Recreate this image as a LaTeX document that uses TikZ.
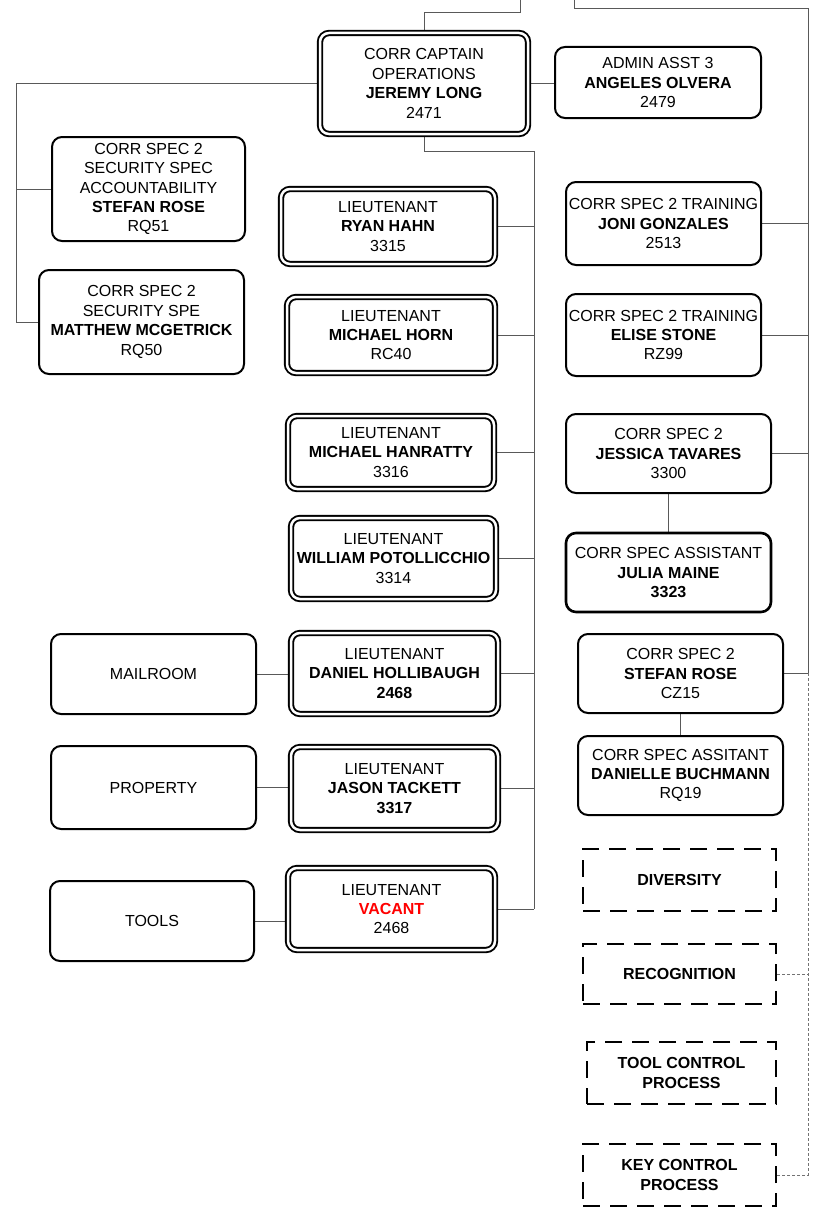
\documentclass[tikz,border=0pt]{standalone}
\usepackage{fontspec}
\setmainfont{Liberation Sans}
\usetikzlibrary{backgrounds,calc}
\begin{document}
\begin{tikzpicture}[x=1pt,y=-1pt,
  base/.style={align=center, inner sep=0pt, fill=white, text=black, font=\fontsize{16}{19.4}\selectfont},
  sz/.style 2 args={minimum width=#1pt, minimum height=#2pt},
  sbox/.style={base, draw=black, line width=2pt, rounded corners=10pt},
  dbox/.style={base, draw=black, double=white, double distance=2.5pt, line width=1.9pt, rounded corners=9pt},
  dashbox/.style={base, draw=black, line width=2.5pt, dash pattern=on 17pt off 10pt, font=\bfseries\fontsize{16}{19.4}\selectfont},
  conn/.style={draw=black!65, line width=1pt},
  dotconn/.style={draw=black!55, line width=1pt, dash pattern=on 3pt off 2pt}]
\useasboundingbox (0,0) rectangle (817,1215);

% double-border boxes
\node[dbox, sz={208}{101}] (capt) at (424,83.5) {CORR CAPTAIN\\OPERATIONS\\\textbf{JEREMY LONG}\\2471};
\node[dbox, sz={214}{75}] (ryan) at (388,226.5) {LIEUTENANT\\\textbf{RYAN HAHN}\\3315};
\node[dbox, sz={208}{76}] (horn) at (391,335) {LIEUTENANT\\\textbf{MICHAEL HORN}\\RC40};
\node[dbox, sz={206}{73}] (hanr) at (391,452.5) {LIEUTENANT\\\textbf{MICHAEL HANRATTY}\\3316};
\node[dbox, sz={205}{81}] (poto) at (393.5,558.5) {LIEUTENANT\\\textbf{WILLIAM POTOLLICCHIO}\\3314};
\node[dbox, sz={207}{81}] (dan) at (394.5,673.5) {LIEUTENANT\\\textbf{DANIEL HOLLIBAUGH}\\\textbf{2468}};
\node[dbox, sz={207}{83}] (jason) at (394.5,788.5) {LIEUTENANT\\\textbf{JASON TACKETT}\\\textbf{3317}};
\node[dbox, sz={207}{82}] (vac) at (391.5,909) {LIEUTENANT\\\textcolor{red}{\textbf{VACANT}}\\2468};

% single boxes
\node[sbox, sz={206}{71}] (admin) at (658,82.5) {ADMIN ASST 3\\\textbf{ANGELES OLVERA}\\2479};
\node[sbox, sz={193}{104}] (stef1) at (148.5,189) {CORR SPEC 2\\SECURITY SPEC\\ACCOUNTABILITY\\\textbf{STEFAN ROSE}\\RQ51};
\node[sbox, sz={205}{104}] (matt) at (141.5,322) {CORR SPEC 2\\SECURITY SPE\\\textbf{MATTHEW MCGETRICK}\\RQ50};
\node[sbox, sz={195}{83}] (joni) at (663.5,223.5) {CORR SPEC 2 TRAINING\\\textbf{JONI GONZALES}\\2513};
\node[sbox, sz={195}{82}] (elise) at (663.5,335) {CORR SPEC 2 TRAINING\\\textbf{ELISE STONE}\\RZ99};
\node[sbox, sz={205}{79}] (jess) at (668.5,453.5) {CORR SPEC 2\\\textbf{JESSICA TAVARES}\\3300};
\node[sbox, sz={205}{79}, line width=2.6pt] (julia) at (668.5,572.5) {CORR SPEC ASSISTANT\\\textbf{JULIA MAINE}\\\textbf{3323}};
\node[sbox, sz={205}{79}] (stef2) at (680.5,673.5) {CORR SPEC 2\\\textbf{STEFAN ROSE}\\CZ15};
\node[sbox, sz={205}{79}] (dani) at (680.5,775.5) {CORR SPEC ASSITANT\\\textbf{DANIELLE BUCHMANN}\\RQ19};
\node[sbox, sz={205}{80}] (mail) at (153.5,674) {MAILROOM};
\node[sbox, sz={205}{83}] (prop) at (153.5,787.5) {PROPERTY};
\node[sbox, sz={204}{80}] (tools) at (152,921) {TOOLS};

% dashed boxes
\node[dashbox, sz={193}{62}] (div) at (679.5,880) {DIVERSITY};
\node[dashbox, sz={193}{60}] (recog) at (679.5,974) {RECOGNITION};
\node[dashbox, sz={189}{62}] (toolc) at (681.5,1073) {TOOL CONTROL\\PROCESS};
\node[dashbox, sz={193}{62}] (keyc) at (679.5,1175) {KEY CONTROL\\PROCESS};

% rail coordinates
\coordinate (topA) at (520,0);
\coordinate (topB) at (574,0);
\coordinate (railTop) at (808,9);
\coordinate (railMid) at (808,673);
\coordinate (lrail) at (16,83);
\coordinate (spine) at (534,909);

\begin{scope}[on background layer]
\draw[conn] (topA) -- ++(0,13) -| (capt.north);
\draw[conn] (topB) |- (railTop) -- (railMid);
\draw[conn] (capt.east) -- (capt.east -| admin.west);
\draw[conn] (capt.west) -- (capt.west -| lrail) -- (lrail |- matt.west) -- (matt.west);
\draw[conn] (stef1.west) -- (stef1.west -| lrail);
\draw[conn] (capt.south) -- ++(0,17) -| (spine);
\foreach \n in {ryan,horn,hanr,poto,dan,jason,vac}
  \draw[conn] (\n.east) -- (\n.east -| spine);
\foreach \n in {joni,elise,jess,stef2}
  \draw[conn] (\n.east) -- (\n.east -| railTop);
\draw[conn] (jess.south) -- (jess.south |- julia.north);
\draw[conn] (stef2.south) -- (dani.north);
\draw[conn] (mail.east) -- (mail.east -| dan.west);
\draw[conn] (prop.east) -- (prop.east -| jason.west);
\draw[conn] (tools.east) -- (tools.east -| vac.west);
\draw[dotconn] (railMid) -- (railMid |- keyc.east) -- (keyc.east);
\draw[dotconn] (recog.east) -- (recog.east -| railMid);
\end{scope}
\end{tikzpicture}
\end{document}
